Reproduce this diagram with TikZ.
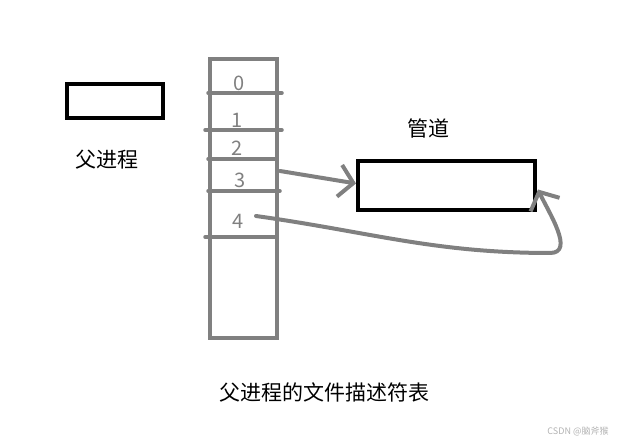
\documentclass[tikz,border=0pt]{standalone}
\usepackage{fontspec}
\setmainfont{Noto Sans CJK SC}
\usetikzlibrary{arrows.meta,positioning}
\definecolor{pen}{RGB}{128,128,128}
\tikzset{
  blackbox/.style = {rectangle, draw=black, line width=4pt, inner sep=0pt},
  table/.style    = {rectangle, draw=pen, line width=4pt, inner sep=0pt,
                     minimum width=67pt, minimum height=279pt},
  divider/.style  = {draw=pen, line width=3.5pt, line cap=round},
  slot/.style     = {text=pen, font=\fontsize{20}{20}\selectfont, inner sep=0pt},
  label/.style    = {font=\fontsize{21}{21}\selectfont, inner sep=0pt},
  flow/.style     = {draw=pen, line width=4pt, line cap=round, line join=round,
                     -{Straight Barb[length=14pt,width=32pt,line width=4pt]}},
}

\begin{document}
\begin{tikzpicture}[x=1pt,y=1pt]
    \useasboundingbox (0,0) rectangle (621,443);
    % parent process
    \node[blackbox, minimum width=96pt, minimum height=34pt] (parent) at (115,342) {};
    \node[label] (ptext) at (107,283) {父进程};
    % fd table
    \node[table] (fdt) at (243.5,244.5) {};
    \foreach \y/\l/\r in {350/0/3, 313/3/3, 284/0/-3, 252/0/1, 206/3/-3}
      \draw[divider] ([xshift=-\l pt]fdt.west |- 0,\y) -- ([xshift=\r pt]fdt.east |- 0,\y);
    \foreach \n/\x/\y in {0/239/360, 1/237/323, 2/237/295, 3/240/263, 4/238/222}
      \node[slot] (fd\n) at (\x,\y) {\n};
    \node[label] (caption) at (324,51) {父进程的文件描述符表};
    % pipe
    \node[label] (ptitle) at (428,315) {管道};
    \node[blackbox, minimum width=177pt, minimum height=49pt] (pipe) at (446.5,257.5) {};
    \coordinate (w3) at (280,272);
    \coordinate (r4) at (256,227);
    \draw[flow] (w3) -- ([yshift=2pt]pipe.west);
    \draw[flow] (r4) to[out=-8,in=180] (550,190) to[out=0,in=-65] ([xshift=1pt,yshift=-4pt]pipe.east);
    % watermark
    \node[text=gray!60, font=\fontsize{9}{9}\selectfont] (mark) at (578,11) {CSDN @脑斧猴};
\end{tikzpicture}
\end{document}
